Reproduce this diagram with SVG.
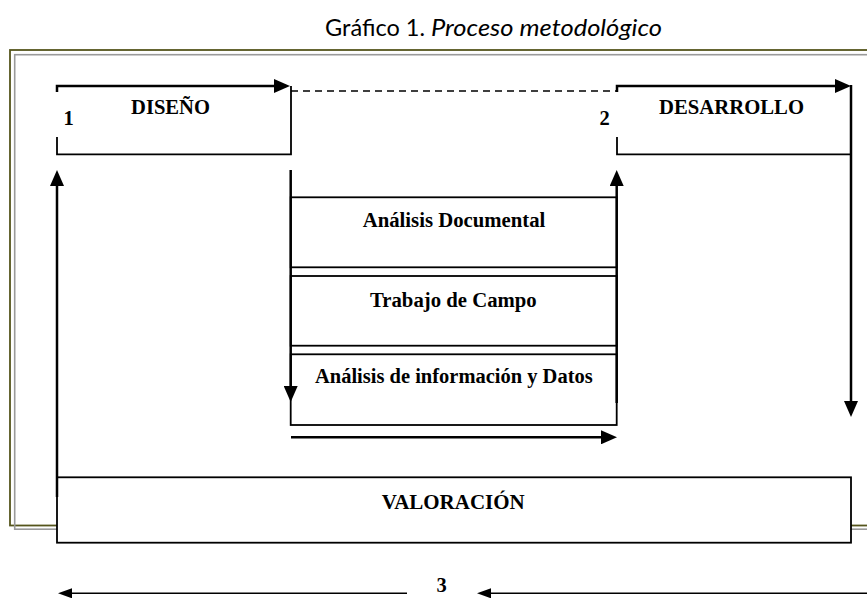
<svg xmlns="http://www.w3.org/2000/svg" width="867" height="599" viewBox="0 0 867 599">
  <style>
    .lbl { font-family: "Liberation Serif", "Times New Roman", serif; font-weight: bold; font-size: 20.5px; fill: #000; }
    .title { font-family: Lato, "Liberation Sans", sans-serif; font-size: 24px; fill: #000; }
    .edge { fill: none; stroke: #000; stroke-width: 1.8; }
    .box { fill: #fff; stroke: #000; stroke-width: 1.8; }
    .arr { fill: none; stroke: #000; stroke-width: 2.5; }
    .arrS { fill: none; stroke: #000; stroke-width: 1.6; }
  </style>
  <defs>
    <marker id="ah" markerUnits="userSpaceOnUse" markerWidth="16" markerHeight="14" viewBox="0 0 16 14" refX="0" refY="7" orient="auto">
      <path d="M0,0 L16,7 L0,14 z" fill="#000"/>
    </marker>
    <marker id="ahS" markerUnits="userSpaceOnUse" markerWidth="14" markerHeight="10" viewBox="0 0 14 10" refX="0" refY="5" orient="auto">
      <path d="M0,0 L14,5 L0,10 z" fill="#000"/>
    </marker>
  </defs>

  <rect width="867" height="599" fill="#fff"/>

  <g id="title">
    <text class="title" x="325" y="36" textLength="100" lengthAdjust="spacingAndGlyphs">Gráfico 1.</text>
    <text class="title" x="431" y="36" font-style="italic" textLength="231" lengthAdjust="spacingAndGlyphs">Proceso metodológico</text>
  </g>

  <g id="frame">
    <rect x="10" y="50" width="900" height="475.5" fill="none" stroke="#55551c" stroke-width="1.8"/>
    <rect x="14.7" y="54.7" width="900" height="474.5" fill="none" stroke="#9a9a9a" stroke-width="1.6"/>
  </g>

  <g id="diseno">
    <path class="edge" d="M57,137 L57,154.3 L291,154.3 L291,86"/>
    <text class="lbl" x="131" y="114" textLength="79" lengthAdjust="spacingAndGlyphs">DISEÑO</text>
    <text class="lbl" x="63.5" y="125">1</text>
  </g>

  <g id="desarrollo">
    <path class="edge" d="M617,137 L617,154.3 L851,154.3"/>
    <text class="lbl" x="659" y="114" textLength="145" lengthAdjust="spacingAndGlyphs">DESARROLLO</text>
    <text class="lbl" x="599.5" y="125">2</text>
  </g>

  <g id="analisis-documental">
    <rect class="box" x="290.7" y="197.3" width="326" height="70"/>
    <text class="lbl" x="362.7" y="227" textLength="182.6" lengthAdjust="spacingAndGlyphs">Análisis Documental</text>
  </g>

  <g id="trabajo-campo">
    <rect class="box" x="290.7" y="276" width="326" height="69.7"/>
    <text class="lbl" x="370" y="307" textLength="166.7" lengthAdjust="spacingAndGlyphs">Trabajo de Campo</text>
  </g>

  <g id="analisis-informacion">
    <rect class="box" x="290.7" y="354.3" width="326" height="70.7"/>
    <text class="lbl" x="315" y="383" textLength="277.7" lengthAdjust="spacingAndGlyphs">Análisis de información y Datos</text>
  </g>

  <g id="valoracion">
    <rect class="box" x="57" y="477.3" width="794" height="65.4"/>
    <text class="lbl" x="381.7" y="509" textLength="143" lengthAdjust="spacingAndGlyphs">VALORACIÓN</text>
  </g>

  <g id="connectors">
    <path class="arr" d="M57,92 L57,86 L274,86" stroke-linejoin="miter" marker-end="url(#ah)"/>
    <line x1="291" y1="91" x2="617" y2="91" stroke="#000" stroke-width="1.5" stroke-dasharray="7 5"/>
    <path class="arr" d="M617,92 L617,86 L835,86" stroke-linejoin="miter" marker-end="url(#ah)"/>
    <line class="arr" x1="851" y1="85" x2="851" y2="401" marker-end="url(#ah)"/>
    <line class="arr" x1="57" y1="497" x2="57" y2="186" marker-end="url(#ah)"/>
    <line class="arr" x1="290.7" y1="170" x2="290.7" y2="386" marker-end="url(#ah)"/>
    <line class="arr" x1="616.7" y1="403" x2="616.7" y2="186" marker-end="url(#ah)"/>
    <line class="arr" x1="291" y1="437.3" x2="601" y2="437.3" marker-end="url(#ah)"/>
    <line class="arrS" x1="407" y1="593.3" x2="72" y2="593.3" marker-end="url(#ahS)"/>
    <line class="arrS" x1="867" y1="593.3" x2="491" y2="593.3" marker-end="url(#ahS)"/>
    <text class="lbl" x="436.5" y="591.5">3</text>
  </g>
</svg>
